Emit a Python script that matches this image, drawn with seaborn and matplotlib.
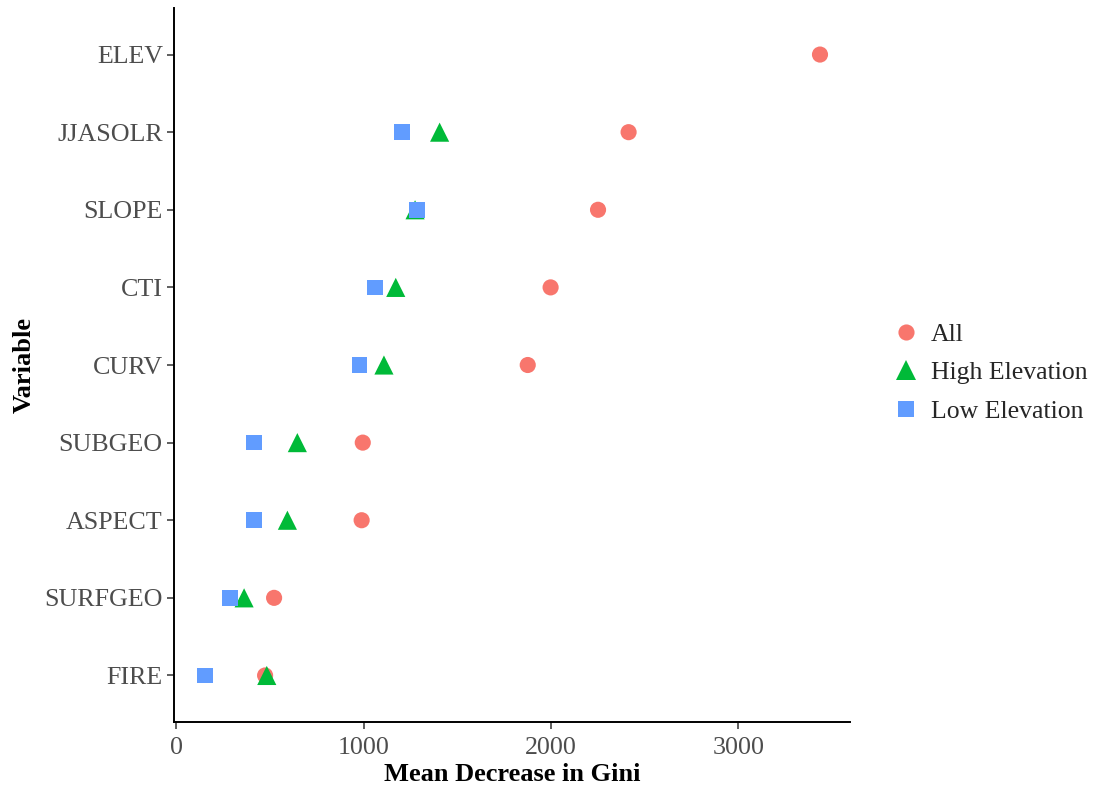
import matplotlib
matplotlib.use("Agg")
import matplotlib.pyplot as plt
import seaborn as sns
import pandas as pd

# Variable importance (mean decrease in Gini) from three random-forest models
variables = ["ELEV", "JJASOLR", "SLOPE", "CTI", "CURV",
             "SUBGEO", "ASPECT", "SURFGEO", "FIRE"]
all_vals = [3435, 2414, 2251, 1998, 1876, 996, 990, 523, 475]
high_vars = ["JJASOLR", "SLOPE", "CTI", "CURV", "SUBGEO", "ASPECT", "SURFGEO", "FIRE"]
high_vals = [1406, 1275, 1172, 1109, 647, 594, 363, 484]
low_vars = ["JJASOLR", "SLOPE", "CTI", "CURV", "SUBGEO", "ASPECT", "SURFGEO", "FIRE"]
low_vals = [1204, 1284, 1061, 978, 416, 416, 288, 155]

groups = ["All", "High Elevation", "Low Elevation"]
palette = {"All": "#F8766D", "High Elevation": "#00BA38", "Low Elevation": "#619CFF"}
markers = {"All": "o", "High Elevation": "^", "Low Elevation": "s"}
sizes = {"All": 135, "High Elevation": 190, "Low Elevation": 125}

df = pd.concat([
    pd.DataFrame({"Variable": variables, "Gini": all_vals, "Model": "All"}),
    pd.DataFrame({"Variable": high_vars, "Gini": high_vals, "Model": "High Elevation"}),
    pd.DataFrame({"Variable": low_vars, "Gini": low_vals, "Model": "Low Elevation"}),
], ignore_index=True)
df["Variable"] = pd.Categorical(df["Variable"], categories=variables, ordered=True)
df = df.sort_values(["Variable"], kind="stable").reset_index(drop=True)
df["Variable"] = df["Variable"].astype(str)

sns.set_style("white")
plt.rcParams["font.family"] = ["Liberation Serif", "DejaVu Serif"]

fig = plt.figure(figsize=(10.97, 7.91), dpi=100)
ax = fig.add_axes([0.1586, 0.0872, 0.6164, 0.9027])

sns.scatterplot(data=df, x="Gini", y="Variable", hue="Model", style="Model",
                size="Model", hue_order=groups, style_order=groups,
                size_order=groups, palette=palette, markers=markers,
                sizes=sizes, linewidth=0, alpha=1, ax=ax, legend=False)

ax.set_xlim(-11, 3596)
ax.set_ylim(len(variables) - 0.4, -0.6)
ax.set_xticks([0, 1000, 2000, 3000])

for s in ["top", "right"]:
    ax.spines[s].set_visible(False)
for s in ["left", "bottom"]:
    ax.spines[s].set_color("black")
    ax.spines[s].set_linewidth(1.4)

ax.tick_params(axis="both", which="major", length=5, width=1.1, color="#333333",
               labelsize=18.7, labelcolor="#4D4D4D", pad=3, left=True, bottom=True)
ax.tick_params(axis="x", pad=6)
ax.set_xlabel("Mean Decrease in Gini", fontsize=19, fontweight="bold", color="black", labelpad=3)
ax.set_ylabel("Variable", fontsize=19, fontweight="bold", color="black", labelpad=6)

# Legend built from the same marker, colour and size mappings
handles = [plt.Line2D([], [], linestyle="none", marker=markers[g],
                      markersize=sizes[g] ** 0.5, markerfacecolor=palette[g],
                      markeredgewidth=0, label=g) for g in groups]
leg = fig.legend(handles=handles, loc="center left", bbox_to_anchor=(0.805, 0.5285),
                 frameon=False, fontsize=18.5, handlelength=1.0, handletextpad=0.45,
                 labelspacing=0.6, borderaxespad=0)

fig.savefig("out.png", dpi=100)
